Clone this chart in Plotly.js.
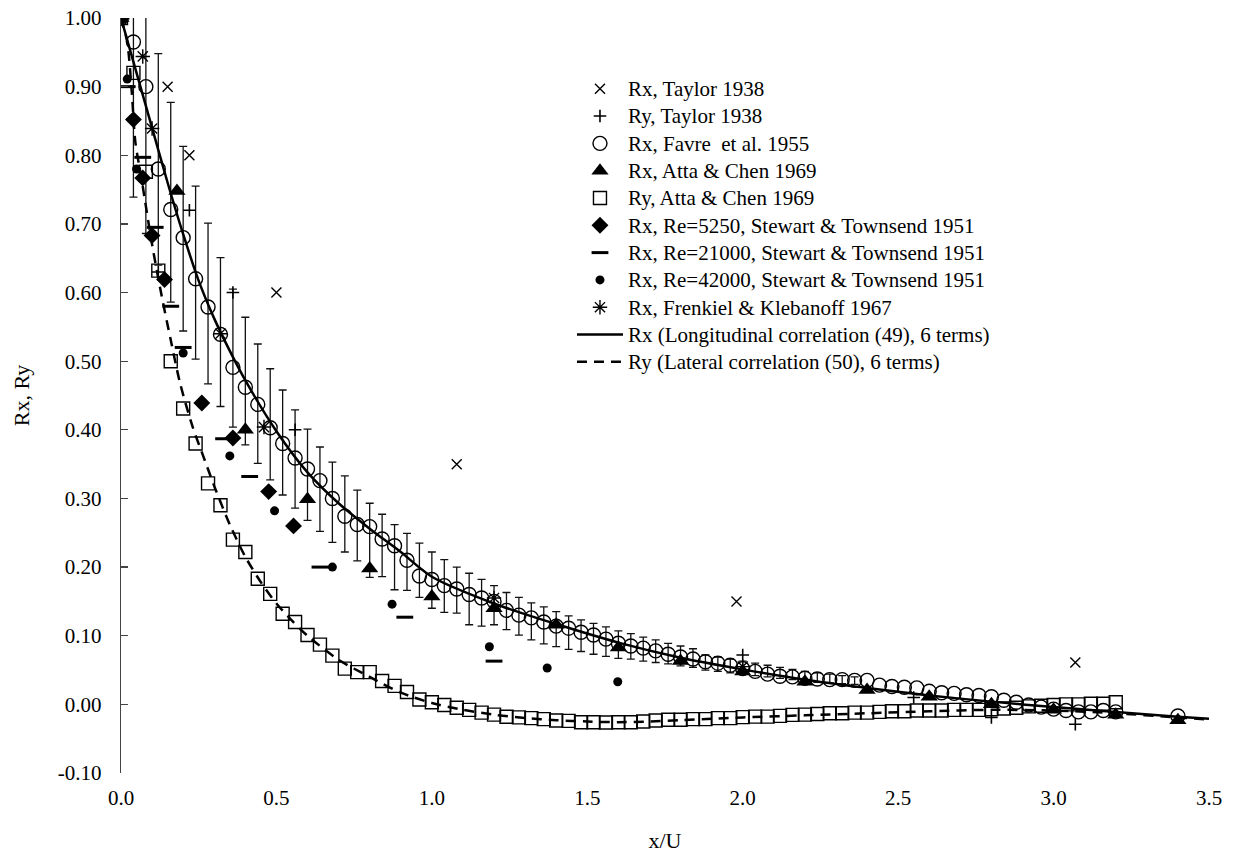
<!DOCTYPE html>
<html><head><meta charset="utf-8">
<script src="https://cdn.plot.ly/plotly-3.0.1.min.js"></script>
<style>html,body{margin:0;padding:0;background:#fff}#chart{width:1240px;height:853px}</style>
</head><body><div id="chart"></div>
<script>
// ---- Data ----
const taylorRxX = [0, 0.15, 0.22, 0.50, 1.08, 1.98, 3.07];
const taylorRxY = [1.0, 0.90, 0.80, 0.60, 0.35, 0.15, 0.061];

const taylorRyX = [0, 0.12, 0.22, 0.36, 0.56, 2.00, 2.55, 2.80, 3.07];
const taylorRyY = [1.0, 0.63, 0.72, 0.60, 0.40, 0.072, 0.010, -0.019, -0.029];

const favreX = [0.00,0.04,0.08,0.12,0.16,0.20,0.24,0.28,0.32,0.36,
  0.40,0.44,0.48,0.52,0.56,0.60,0.64,0.68,0.72,0.76,
  0.80,0.84,0.88,0.92,0.96,1.00,1.04,1.08,1.12,1.16,
  1.20,1.24,1.28,1.32,1.36,1.40,1.44,1.48,1.52,1.56,
  1.60,1.64,1.68,1.72,1.76,1.80,1.84,1.88,1.92,1.96,
  2.00,2.04,2.08,2.12,2.16,2.20,2.24,2.28,2.32,2.36,
  2.40,2.44,2.48,2.52,2.56,2.60,2.64,2.68,2.72,2.76,
  2.80,2.84,2.88,2.92,2.96,3.00,3.04,3.08,3.12,3.16,
  3.20,3.40];
const favreY = [1.000,0.965,0.900,0.780,0.721,0.680,0.620,0.579,0.539,0.491,
  0.462,0.437,0.403,0.380,0.359,0.343,0.326,0.300,0.274,0.262,
  0.259,0.241,0.231,0.210,0.187,0.182,0.173,0.168,0.160,0.155,
  0.150,0.137,0.130,0.126,0.120,0.114,0.111,0.105,0.101,0.095,
  0.089,0.085,0.082,0.078,0.073,0.069,0.066,0.062,0.060,0.057,
  0.052,0.048,0.044,0.041,0.040,0.038,0.037,0.036,0.036,0.035,
  0.035,0.028,0.026,0.025,0.024,0.019,0.017,0.016,0.014,0.013,
  0.011,0.006,0.003,-0.001,-0.004,-0.007,-0.009,-0.011,-0.011,-0.009,
  -0.011,-0.017];

// error bars on the Favre data: bar x, bar top, bar bottom
const errX = [0.04,0.08,0.12,0.16,0.20,0.24,0.28,0.32,0.36,0.40,
  0.44,0.48,0.52,0.56,0.60,0.64,0.68,0.72,0.76,0.80,
  0.84,0.88,0.92,0.96,1.00,1.04,1.08,1.12,1.16,1.20,
  1.24,1.28,1.32,1.36,1.40,1.44,1.48,1.52,1.56,1.60,
  1.64,1.68,1.72,1.76,1.80,1.84,1.88,1.92,1.96,2.00,
  2.04,2.08,2.12,2.16,2.20,2.24,2.28,2.32,2.36];
const errTop = [1.18,1.10,0.948,0.877,0.813,0.755,0.701,0.651,0.605,0.564,
  0.525,0.489,0.458,0.429,0.401,0.375,0.353,0.333,0.312,0.293,
  0.277,0.262,0.249,0.235,0.222,0.211,0.200,0.191,0.182,0.173,
  0.163,0.156,0.148,0.142,0.135,0.129,0.123,0.118,0.113,0.107,
  0.103,0.098,0.094,0.089,0.085,0.081,0.072,0.069,0.066,0.063,
  0.060,0.057,0.054,0.051,0.048,0.046,0.044,0.042,0.040];
const errBot = [0.739,0.686,0.640,0.586,0.544,0.503,0.467,0.434,0.404,0.378,
  0.351,0.327,0.305,0.286,0.268,0.252,0.236,0.222,0.209,0.185,
  0.186,0.167,0.166,0.156,0.140,0.134,0.133,0.116,0.114,0.116,
  0.109,0.101,0.094,0.088,0.084,0.080,0.077,0.073,0.070,0.067,
  0.066,0.063,0.061,0.059,0.056,0.054,0.050,0.048,0.046,0.044,
  0.042,0.040,0.038,0.036,0.034,0.032,0.031,0.030,0.029];

const attaRxX = [0, 0.18, 0.40, 0.60, 0.80, 1.00, 1.20, 1.40, 1.60, 1.80, 2.00, 2.20, 2.40, 2.60, 2.80, 3.00, 3.20, 3.40];
const attaRxY = [1.0, 0.748, 0.40, 0.299, 0.198, 0.157, 0.140, 0.116, 0.083, 0.063, 0.048, 0.033, 0.021, 0.011, 0.000, -0.008, -0.015, -0.023];

const attaRyX = [0.00,0.04,0.08,0.12,0.16,0.20,0.24,0.28,0.32,0.36,
  0.40,0.44,0.48,0.52,0.56,0.60,0.64,0.68,0.72,0.76,
  0.80,0.84,0.88,0.92,0.96,1.00,1.04,1.08,1.12,1.16,
  1.20,1.24,1.28,1.32,1.36,1.40,1.44,1.48,1.52,1.56,
  1.60,1.64,1.68,1.72,1.76,1.80,1.84,1.88,1.92,1.96,
  2.00,2.04,2.08,2.12,2.16,2.20,2.24,2.28,2.32,2.36,
  2.40,2.44,2.48,2.52,2.56,2.60,2.64,2.68,2.72,2.76,
  2.80,2.84,2.88,2.92,2.96,3.00,3.04,3.08,3.12,3.16,
  3.20];
const attaRyY = [1.000,0.920,0.776,0.632,0.500,0.431,0.380,0.322,0.290,0.240,
  0.222,0.183,0.161,0.132,0.120,0.101,0.087,0.071,0.052,0.047,
  0.047,0.034,0.027,0.018,0.007,0.003,-0.001,-0.005,-0.008,-0.012,
  -0.015,-0.018,-0.019,-0.020,-0.0215,-0.0235,-0.024,-0.026,-0.026,-0.0265,
  -0.026,-0.026,-0.025,-0.0235,-0.0225,-0.0225,-0.0215,-0.0215,-0.020,-0.020,
  -0.0186,-0.0178,-0.0178,-0.0167,-0.0153,-0.015,-0.014,-0.013,-0.013,-0.012,
  -0.012,-0.011,-0.010,-0.010,-0.009,-0.009,-0.009,-0.008,-0.008,-0.008,
  -0.007,-0.006,-0.005,-0.003,-0.002,-0.001,0.000,0.000,0.001,0.001,
  0.003];

const st5250X = [0, 0.04, 0.07, 0.10, 0.14, 0.26, 0.36, 0.475, 0.555];
const st5250Y = [1.0, 0.852, 0.767, 0.683, 0.619, 0.439, 0.388, 0.310, 0.260];

const st21000X = [0, 0.02, 0.07, 0.11, 0.16, 0.20, 0.33, 0.414, 0.64, 0.913, 1.20];
const st21000Y = [1.0, 0.90, 0.797, 0.695, 0.58, 0.52, 0.387, 0.332, 0.20, 0.127, 0.063];

const st42000X = [0, 0.02, 0.05, 0.20, 0.35, 0.494, 0.68, 0.872, 1.185, 1.371, 1.598];
const st42000Y = [1.0, 0.911, 0.78, 0.512, 0.362, 0.282, 0.20, 0.146, 0.084, 0.053, 0.033];

const frenkielX = [0, 0.07, 0.10, 0.32, 0.46, 1.20, 2.00];
const frenkielY = [1.0, 0.944, 0.839, 0.54, 0.404, 0.155, 0.055];

const rxLineX = [0,0.05,0.1,0.15,0.2,0.25,0.3,0.35,0.4,0.5,0.6,0.7,0.8,0.9,1.0,1.2,1.4,1.6,1.8,2.0,2.2,2.4,2.6,2.8,3.0,3.2,3.4,3.5];
const rxLineY = [1.0,0.92,0.84,0.76,0.685,0.617,0.562,0.515,0.472,0.398,0.338,0.293,0.256,0.222,0.186,0.147,0.117,0.090,0.068,0.051,0.036,0.024,0.013,0.004,-0.004,-0.011,-0.018,-0.021];

const ryLineX = [0,0.02,0.035,0.046,0.068,0.1,0.13,0.16,0.19,0.23,0.27,0.3,0.35,0.4,0.45,0.5,0.55,0.6,0.7,0.8,0.9,1.0,1.1,1.2,1.3,1.4,1.5,1.6,1.7,1.8,1.9,2.0,2.2,2.4,2.6,2.8,3.0,3.2,3.4,3.5];
const ryLineY = [1.0,0.965,0.89,0.82,0.76,0.67,0.597,0.531,0.468,0.405,0.355,0.318,0.262,0.215,0.178,0.147,0.122,0.100,0.065,0.040,0.017,0.002,-0.008,-0.015,-0.020,-0.023,-0.025,-0.026,-0.025,-0.023,-0.021,-0.019,-0.016,-0.013,-0.010,-0.008,-0.009,-0.013,-0.019,-0.022];

const yTickVals = [-0.1,0,0.1,0.2,0.3,0.4,0.5,0.6,0.7,0.8,0.9,1.0];
const yTickText = ['-0.10','0.00','0.10','0.20','0.30','0.40','0.50','0.60','0.70','0.80','0.90','1.00'];
const xTickVals = [0,0.5,1.0,1.5,2.0,2.5,3.0,3.5];
const xTickText = ['0.0','0.5','1.0','1.5','2.0','2.5','3.0','3.5'];

const seriesNames = {
  taylorRx: 'Rx, Taylor 1938',
  taylorRy: 'Ry, Taylor 1938',
  favre: 'Rx, Favre  et al. 1955',
  attaRx: 'Rx, Atta &amp; Chen 1969',
  attaRy: 'Ry, Atta &amp; Chen 1969',
  st5250: 'Rx, Re=5250, Stewart &amp; Townsend 1951',
  st21000: 'Rx, Re=21000, Stewart &amp; Townsend 1951',
  st42000: 'Rx, Re=42000, Stewart &amp; Townsend 1951',
  frenkiel: 'Rx, Frenkiel &amp; Klebanoff 1967',
  rxLine: 'Rx (Longitudinal correlation (49), 6 terms)',
  ryLine: 'Ry (Lateral correlation (50), 6 terms)'
};
// legend text drawn a little larger than the row pitch font
const nm = k => '<span style="font-size:21px">' + seriesNames[k] + '</span>';

// ---- Traces ----
const K = '#000';
const traces = [
  { // error bars on Favre data
    x: errX, y: errBot, type: 'scatter', mode: 'markers', showlegend: false, hoverinfo: 'skip',
    marker: {size: 1, color: 'rgba(0,0,0,0)'},
    error_y: {type: 'data', symmetric: false,
      array: errTop.map((t, i) => t - errBot[i]), arrayminus: errX.map(() => 0),
      color: '#111', thickness: 1.3, width: 4}
  },
  {x: taylorRxX, y: taylorRxY, name: nm('taylorRx'), type: 'scatter', mode: 'markers',
    marker: {symbol: 'x-thin-open', size: 10, color: K, line: {width: 1.4, color: K}}},
  {x: taylorRyX, y: taylorRyY, name: nm('taylorRy'), type: 'scatter', mode: 'markers',
    marker: {symbol: 'cross-thin-open', size: 9, color: K, line: {width: 1.6, color: K}}},
  {x: favreX, y: favreY, name: nm('favre'), type: 'scatter', mode: 'markers',
    marker: {symbol: 'circle-open', size: 14, color: K, line: {width: 1.4, color: K}}},
  {x: attaRxX, y: attaRxY, name: nm('attaRx'), type: 'scatter', mode: 'markers',
    marker: {symbol: 'triangle-up', size: 15, color: K}},
  {x: attaRyX, y: attaRyY, name: nm('attaRy'), type: 'scatter', mode: 'markers',
    marker: {symbol: 'square-open', size: 13, color: K, line: {width: 1.4, color: K}}},
  {x: st5250X, y: st5250Y, name: nm('st5250'), type: 'scatter', mode: 'markers',
    marker: {symbol: 'diamond', size: 13, color: K}},
  {x: st21000X, y: st21000Y, name: nm('st21000'), type: 'scatter', mode: 'markers',
    marker: {symbol: 'line-ew-open', size: 12, color: K, line: {width: 3, color: K}}},
  {x: st42000X, y: st42000Y, name: nm('st42000'), type: 'scatter', mode: 'markers',
    marker: {symbol: 'circle', size: 9, color: K}},
  {x: frenkielX, y: frenkielY, name: nm('frenkiel'), type: 'scatter', mode: 'markers',
    marker: {symbol: 'asterisk-open', size: 12, color: K, line: {width: 1.4, color: K}}},
  {x: rxLineX, y: rxLineY, name: nm('rxLine'), type: 'scatter', mode: 'lines',
    line: {color: K, width: 2.5, shape: 'spline', smoothing: 0.8}},
  {x: ryLineX, y: ryLineY, name: nm('ryLine'), type: 'scatter', mode: 'lines',
    line: {color: K, width: 2.5, dash: '10px,7px', shape: 'spline', smoothing: 0.8}}
];

const FONT = 'Liberation Serif';
const layout = {
  width: 1240, height: 853,
  margin: {l: 121, r: 31, t: 18, b: 80},
  paper_bgcolor: '#fff', plot_bgcolor: '#fff',
  font: {family: FONT, size: 21, color: '#000'},
  showlegend: true,
  legend: {x: 0.4145, y: 0.931, xanchor: 'left', yanchor: 'top', bgcolor: 'rgba(0,0,0,0)',
    font: {family: FONT, size: 18.7, color: '#000'}, tracegroupgap: 0, itemwidth: 46},
  xaxis: {range: [0, 3.5], showline: false, zeroline: false, showgrid: false, ticks: '',
    tickvals: xTickVals, ticktext: xTickText, tickfont: {family: FONT, size: 21},
    ticklabelstandoff: 10, automargin: false,
    title: {text: 'x/U', font: {family: FONT, size: 22}, standoff: 32}},
  xaxis2: {overlaying: 'x', anchor: 'free', position: 0.1 / 1.1, range: [0, 3.5],
    showline: true, linecolor: '#222', linewidth: 1.3, ticks: 'inside', ticklen: 6,
    tickcolor: '#222', tickwidth: 1.3, tickvals: xTickVals, showticklabels: false,
    showgrid: false, zeroline: false},
  yaxis: {range: [-0.1, 1.0], showline: true, linecolor: '#444', linewidth: 1.3,
    ticks: 'inside', ticklen: 7, tickcolor: '#444', tickwidth: 1.3,
    tickvals: yTickVals, ticktext: yTickText, tickfont: {family: FONT, size: 21},
    showgrid: false, zeroline: false, automargin: false, ticklabelstandoff: 14,
    title: {text: 'Rx, Ry', font: {family: FONT, size: 22}, standoff: 22}}
};

Plotly.newPlot('chart', traces, layout, {displayModeBar: false, staticPlot: true});
</script>
</body></html>
